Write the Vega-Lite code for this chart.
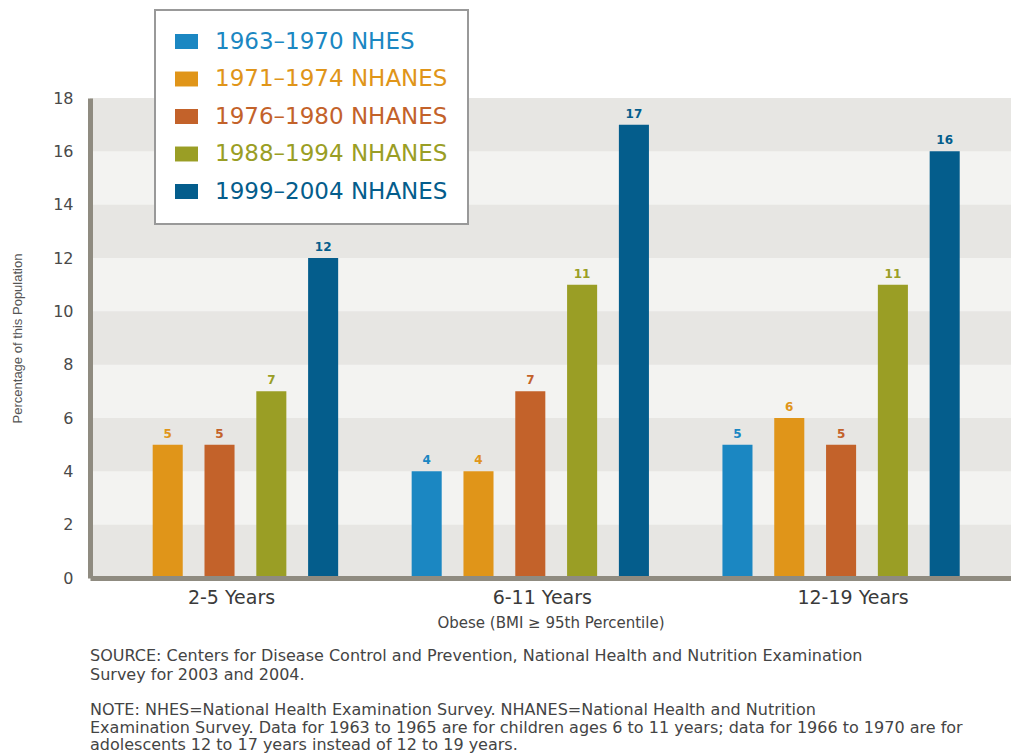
{
  "$schema": "https://vega.github.io/schema/vega-lite/v6.json",
  "width": 921,
  "height": 480,
  "autosize": {"type": "none"},
  "padding": {"left": 90, "top": 98, "right": 0, "bottom": 175},
  "background": "white",
  "config": {
    "font": "DejaVu Sans",
    "view": {"stroke": null, "fill": "#f3f3f1"}
  },
  "datasets": {
    "bands": [
      {"value": 0, "hi": 2},
      {"value": 4, "hi": 6},
      {"value": 8, "hi": 10},
      {"value": 12, "hi": 14},
      {"value": 16, "hi": 18}
    ],
    "bars": [
      {"group": "2-5 Years", "series": "1971–1974 NHANES", "value": 5},
      {"group": "2-5 Years", "series": "1976–1980 NHANES", "value": 5},
      {"group": "2-5 Years", "series": "1988–1994 NHANES", "value": 7},
      {"group": "2-5 Years", "series": "1999–2004 NHANES", "value": 12},
      {"group": "6-11 Years", "series": "1963–1970 NHES", "value": 4},
      {"group": "6-11 Years", "series": "1971–1974 NHANES", "value": 4},
      {"group": "6-11 Years", "series": "1976–1980 NHANES", "value": 7},
      {"group": "6-11 Years", "series": "1988–1994 NHANES", "value": 11},
      {"group": "6-11 Years", "series": "1999–2004 NHANES", "value": 17},
      {"group": "12-19 Years", "series": "1963–1970 NHES", "value": 5},
      {"group": "12-19 Years", "series": "1971–1974 NHANES", "value": 6},
      {"group": "12-19 Years", "series": "1976–1980 NHANES", "value": 5},
      {"group": "12-19 Years", "series": "1988–1994 NHANES", "value": 11},
      {"group": "12-19 Years", "series": "1999–2004 NHANES", "value": 16}
    ]
  },
  "title": {
    "text": ["SOURCE: Centers for Disease Control and Prevention, National Health and Nutrition Examination", "Survey for 2003 and 2004."],
    "subtitle": ["NOTE: NHES=National Health Examination Survey. NHANES=National Health and Nutrition", "Examination Survey. Data for 1963 to 1965 are for children ages 6 to 11 years; data for 1966 to 1970 are for", "adolescents 12 to 17 years instead of 12 to 19 years."],
    "orient": "bottom",
    "anchor": "start",
    "frame": "group",
    "font": "DejaVu Sans",
    "fontSize": 16,
    "fontWeight": "normal",
    "color": "#444444",
    "lineHeight": 19,
    "subtitleFont": "DejaVu Sans",
    "subtitleFontSize": 16,
    "subtitleColor": "#444444",
    "subtitleLineHeight": 17.5,
    "subtitlePadding": 19,
    "offset": 18
  },
  "encoding": {
    "y": {
      "field": "value",
      "type": "quantitative",
      "scale": {"domain": [0, 18], "nice": false},
      "axis": {
        "values": [0, 2, 4, 6, 8, 10, 12, 14, 16, 18],
        "grid": false,
        "ticks": false,
        "tickSize": 0,
        "zindex": 1,
        "labelFont": "DejaVu Sans",
        "labelFontSize": 16,
        "labelColor": "#4a4a4a",
        "labelPadding": 17,
        "domainColor": "#8f8b80",
        "domainWidth": 5,
        "title": "Percentage of this Population",
        "titleFont": "Liberation Sans",
        "titleFontSize": 13,
        "titleFontWeight": "normal",
        "titleColor": "#555555",
        "titlePadding": 28
      }
    }
  },
  "layer": [
    {
      "data": {"name": "bands"},
      "mark": {"type": "rect", "color": "#e7e6e3"},
      "encoding": {
        "y2": {"field": "hi"}
      }
    },
    {
      "data": {"name": "bars"},
      "mark": {"type": "bar"},
      "encoding": {
        "x": {
          "field": "group",
          "type": "nominal",
          "sort": ["2-5 Years", "6-11 Years", "12-19 Years"],
          "scale": {"paddingInner": 0.1665, "paddingOuter": 0.065, "align": 0},
          "axis": {
            "labelAngle": 0,
            "ticks": false,
            "tickSize": 0,
            "zindex": 1,
            "labelFont": "DejaVu Sans",
            "labelFontSize": 19,
            "labelColor": "#3a3a3a",
            "labelPadding": 10,
            "labelOffset": 12,
            "domainColor": "#8f8b80",
            "domainWidth": 5,
            "title": "Obese (BMI ≥ 95th Percentile)",
            "titleFont": "DejaVu Sans",
            "titleFontSize": 15,
            "titleFontWeight": "normal",
            "titleColor": "#444444",
            "titlePadding": 8
          }
        },
        "xOffset": {
          "field": "series",
          "type": "nominal",
          "scale": {
            "domain": ["1963–1970 NHES", "1971–1974 NHANES", "1976–1980 NHANES", "1988–1994 NHANES", "1999–2004 NHANES"],
            "paddingInner": 0.42,
            "paddingOuter": 0.21
          }
        },
        "color": {
          "field": "series",
          "type": "nominal",
          "scale": {
            "domain": ["1963–1970 NHES", "1971–1974 NHANES", "1976–1980 NHANES", "1988–1994 NHANES", "1999–2004 NHANES"],
            "range": ["#1b87c2", "#e09519", "#c3622a", "#9a9e25", "#045d8c"]
          },
          "legend": {
            "orient": "none",
            "legendX": 65,
            "legendY": -88,
            "title": null,
            "padding": 20,
            "fillColor": "white",
            "strokeColor": "#999999",
            "cornerRadius": 0,
            "symbolType": "M -1 -0.65 L 1 -0.65 L 1 0.65 L -1 0.65 Z",
            "symbolSize": 529,
            "symbolStrokeWidth": 0,
            "labelFont": "DejaVu Sans",
            "labelFontSize": 23,
            "labelOffset": 17,
            "labelLimit": 400,
            "rowPadding": 13.5,
            "encode": {
              "legend": {"update": {"strokeWidth": {"value": 2}}},
              "labels": {"update": {"fill": {"scale": "color", "field": "value"}}}
            }
          }
        }
      }
    },
    {
      "data": {"name": "bars"},
      "mark": {"type": "text", "baseline": "bottom", "dy": -4, "fontWeight": "bold", "fontSize": 12, "font": "DejaVu Sans"},
      "encoding": {
        "x": {
          "field": "group",
          "type": "nominal",
          "sort": ["2-5 Years", "6-11 Years", "12-19 Years"]
        },
        "xOffset": {"field": "series", "type": "nominal"},
        "text": {"field": "value", "type": "quantitative"},
        "color": {"field": "series", "type": "nominal"}
      }
    }
  ]
}
